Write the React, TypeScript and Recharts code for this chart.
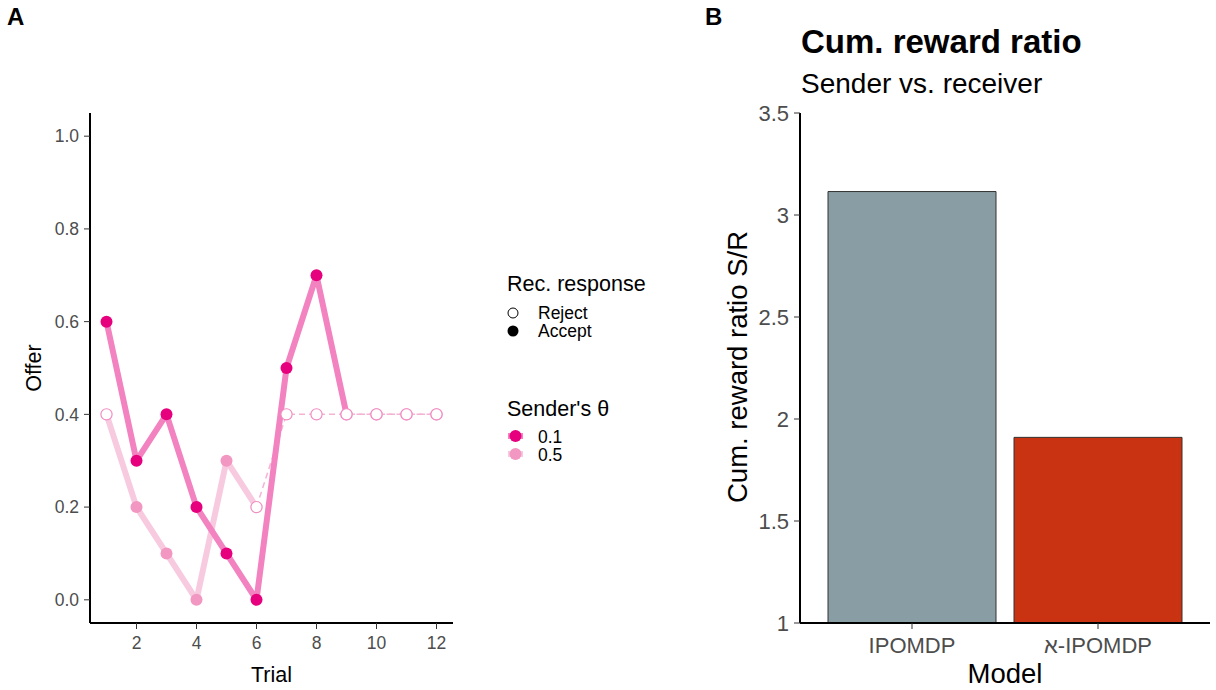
import React from "react";
import {
  ComposedChart,
  Line,
  BarChart,
  Bar,
  Cell,
  XAxis,
  YAxis,
  Label,
} from "recharts";

// panel A: offers per trial for two sender thetas
const trials = [1, 2, 3, 4, 5, 6, 7, 8, 9, 10, 11, 12];
const offerTheta01 = [0.6, 0.3, 0.4, 0.2, 0.1, 0.0, 0.5, 0.7, 0.4, 0.4, 0.4, 0.4];
const acceptTheta01 = [1, 1, 1, 1, 1, 1, 1, 1, 0, 0, 0, 0];
const offerTheta05 = [0.4, 0.2, 0.1, 0.0, 0.3, 0.2, 0.4, 0.4, 0.4, 0.4, 0.4, 0.4];
const acceptTheta05 = [0, 1, 1, 1, 1, 0, 0, 0, 0, 0, 0, 0];
// last trial drawn with the solid line, later trials dashed
const activeUntil01 = 9;
const activeUntil05 = 6;
const trialTicks = [2, 4, 6, 8, 10, 12];
const offerTicks = [0, 0.2, 0.4, 0.6, 0.8, 1.0];

// panel B: cumulative reward ratio
const models = ["IPOMDP", "א-IPOMDP"];
const ratios = [3.115, 1.91];
const modelColors = ["#899DA4", "#C93312"];
const ratioTicks = [1, 1.5, 2, 2.5, 3, 3.5];

const FONT = '"Liberation Sans", Arial, Helvetica, sans-serif';
const PT_DARK = "#E6007E";
const PT_LIGHT = "#F296C2";
const LN_DARK = "#F283C0";
const LN_LIGHT = "#F8CADF";
const DASH = "#F5B3D4";
const OPEN = "#F08DC2";

const offerRows = trials.map((t, i) => ({
  trial: t,
  o01: offerTheta01[i],
  o05: offerTheta05[i],
  a01: acceptTheta01[i],
  a05: acceptTheta05[i],
  solid01: t <= activeUntil01 ? offerTheta01[i] : null,
  solid05: t <= activeUntil05 ? offerTheta05[i] : null,
  dash01: t >= activeUntil01 ? offerTheta01[i] : null,
  dash05: t >= activeUntil05 ? offerTheta05[i] : null,
}));

const ratioRows = models.map((m, i) => ({ model: m, ratio: ratios[i] }));

const makeDot = (acceptKey: string, fill: string) => (props: any) => {
  const { cx, cy, payload, index } = props;
  if (cy == null || isNaN(cy)) return <g key={"d" + index} />;
  if (payload[acceptKey]) {
    return <circle key={"d" + index} cx={cx} cy={cy} r={6} fill={fill} />;
  }
  return (
    <circle
      key={"d" + index}
      cx={cx}
      cy={cy}
      r={5.6}
      fill="#fff"
      stroke={OPEN}
      strokeWidth={1.2}
    />
  );
};

// legend for panel A, drawn next to the plot
const OfferLegend = () => (
  <svg width={190} height={220} style={{ fontFamily: FONT, display: "block" }}>
    <text x={7} y={31} fontSize={21.5} fill="#000">Rec. response</text>
    <circle cx={13} cy={53} r={5} fill="#fff" stroke="#000" strokeWidth={1} />
    <text x={38} y={59} fontSize={17.5} fill="#000">Reject</text>
    <circle cx={13} cy={71} r={5.5} fill="#000" />
    <text x={38} y={77} fontSize={17.5} fill="#000">Accept</text>
    <text x={7} y={156} fontSize={21.5} fill="#000">Sender's θ</text>
    <line x1={8} x2={23} y1={176} y2={176} stroke={LN_DARK} strokeWidth={6} />
    <circle cx={15.5} cy={176} r={6} fill={PT_DARK} />
    <text x={38} y={183} fontSize={17.5} fill="#000">0.1</text>
    <line x1={8} x2={23} y1={194} y2={194} stroke={LN_LIGHT} strokeWidth={6} />
    <circle cx={15.5} cy={194} r={6} fill={PT_LIGHT} />
    <text x={38} y={201} fontSize={17.5} fill="#000">0.5</text>
  </svg>
);

const OfferChart = () => (
  <ComposedChart
    width={700}
    height={690}
    data={offerRows}
    margin={{ top: 113, right: 247, bottom: 7, left: 0 }}
    style={{ fontFamily: FONT }}
  >
    <XAxis
      type="number"
      dataKey="trial"
      domain={[0.45, 12.55]}
      ticks={trialTicks}
      allowDataOverflow
      height={60}
      tick={{ fill: "#4D4D4D", fontSize: 17.5 }}
      tickLine={{ stroke: "#333" }}
      axisLine={{ stroke: "#000", strokeWidth: 2 }}
      tickSize={6}
      tickMargin={8}
    >
      <Label
        content={() => (
          <text x={271.5} y={682} textAnchor="middle" fontSize={21.5} fill="#000">
            Trial
          </text>
        )}
      />
    </XAxis>
    <YAxis
      type="number"
      domain={[-0.05, 1.05]}
      ticks={offerTicks}
      allowDataOverflow
      width={90}
      tickFormatter={(v: number) => v.toFixed(1)}
      tick={{ fill: "#4D4D4D", fontSize: 17.5 }}
      tickLine={{ stroke: "#333" }}
      axisLine={{ stroke: "#000", strokeWidth: 2 }}
      tickSize={6}
      tickMargin={5}
    >
      <Label
        content={() => (
          <text
            x={34}
            y={368}
            transform="rotate(-90 34 368)"
            textAnchor="middle"
            dominantBaseline="central"
            fontSize={21.5}
            fill="#000"
          >
            Offer
          </text>
        )}
      />
    </YAxis>

    <Line dataKey="dash05" stroke={DASH} strokeWidth={1.5} strokeDasharray="6 4" dot={false} activeDot={false} isAnimationActive={false} />
    <Line dataKey="dash01" stroke={DASH} strokeWidth={1.5} strokeDasharray="6 4" dot={false} activeDot={false} isAnimationActive={false} />
    <Line dataKey="solid05" stroke={LN_LIGHT} strokeWidth={6} strokeLinejoin="round" dot={false} activeDot={false} isAnimationActive={false} />
    <Line dataKey="solid01" stroke={LN_DARK} strokeWidth={6} strokeLinejoin="round" dot={false} activeDot={false} isAnimationActive={false} />
    <Line dataKey="o05" stroke="none" dot={makeDot("a05", PT_LIGHT)} activeDot={false} isAnimationActive={false} />
    <Line dataKey="o01" stroke="none" dot={makeDot("a01", PT_DARK)} activeDot={false} isAnimationActive={false} />
  </ComposedChart>
);

const RatioChart = () => (
  <BarChart
    width={516}
    height={690}
    data={ratioRows}
    margin={{ top: 113, right: 6, bottom: 7, left: 0 }}
    style={{ fontFamily: FONT }}
  >
    <XAxis
      dataKey="model"
      padding={{ left: 19, right: 19 }}
      height={60}
      tick={{ fill: "#4D4D4D", fontSize: 22 }}
      tickLine={{ stroke: "#333" }}
      axisLine={{ stroke: "#000", strokeWidth: 2 }}
      tickSize={6}
      tickMargin={8}
    >
      <Label
        content={() => (
          <text x={305} y={683} textAnchor="middle" fontSize={27.5} fill="#000">
            Model
          </text>
        )}
      />
    </XAxis>
    <YAxis
      type="number"
      domain={[1, 3.5]}
      ticks={ratioTicks}
      allowDataOverflow
      width={100}
      tick={{ fill: "#4D4D4D", fontSize: 22 }}
      tickLine={{ stroke: "#333" }}
      axisLine={{ stroke: "#000", strokeWidth: 2 }}
      tickSize={6}
      tickMargin={5}
    >
      <Label
        content={() => (
          <text
            x={37}
            y={367}
            transform="rotate(-90 37 367)"
            textAnchor="middle"
            dominantBaseline="central"
            fontSize={27.5}
            fill="#000"
          >
            Cum. reward ratio S/R
          </text>
        )}
      />
    </YAxis>
    <Bar dataKey="ratio" barSize={168} stroke="#333" strokeWidth={1} isAnimationActive={false}>
      {ratioRows.map((r, i) => (
        <Cell key={r.model} fill={modelColors[i]} />
      ))}
    </Bar>
  </BarChart>
);

export default function App() {
  return (
    <div
      style={{
        position: "absolute",
        left: 0,
        top: 0,
        width: 1216,
        height: 690,
        background: "#fff",
        fontFamily: FONT,
      }}
    >
      <div style={{ position: "absolute", left: 0, top: 0 }}>
        <OfferChart />
      </div>
      <div style={{ position: "absolute", left: 500, top: 260 }}>
        <OfferLegend />
      </div>
      <div style={{ position: "absolute", left: 700, top: 0 }}>
        <RatioChart />
      </div>
      <svg
        width={1216}
        height={690}
        style={{ position: "absolute", left: 0, top: 0, pointerEvents: "none", fontFamily: FONT }}
      >
        <text x={7} y={25} fontSize={24} fontWeight="bold">A</text>
        <text x={705} y={25} fontSize={24} fontWeight="bold">B</text>
        <text x={801} y={53} fontSize={33} fontWeight="bold">Cum. reward ratio</text>
        <text x={801} y={93} fontSize={28}>Sender vs. receiver</text>
      </svg>
    </div>
  );
}
